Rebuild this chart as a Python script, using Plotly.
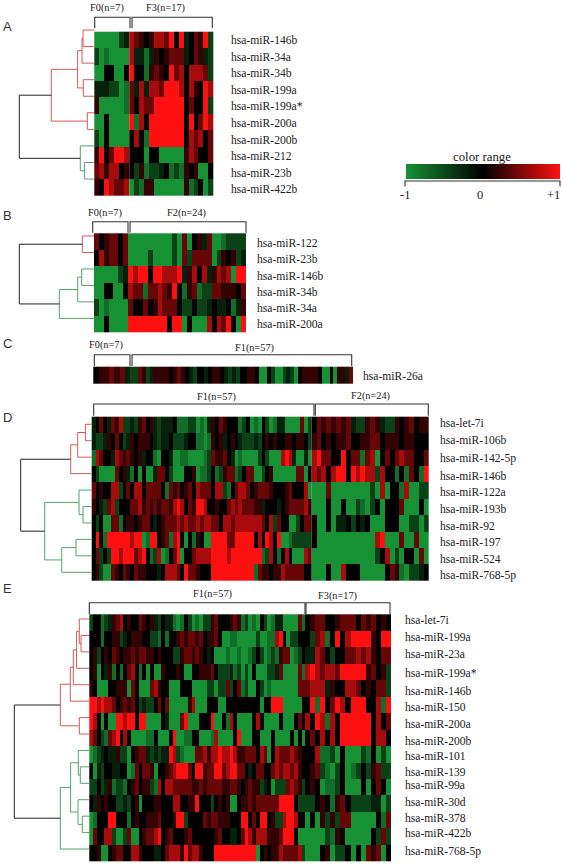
import plotly.graph_objects as go

# colour-level codes
LEVELS = {"G": -1.0, "g": -0.75, "e": -0.45, "d": -0.22, "k": 0.0,
          "r": 0.2, "m": 0.4, "R": 0.66, "X": 1.0}

A_GENES = ["hsa-miR-146b", "hsa-miR-34a", "hsa-miR-34b", "hsa-miR-199a", "hsa-miR-199a*",
           "hsa-miR-200a", "hsa-miR-200b", "hsa-miR-212", "hsa-miR-23b", "hsa-miR-422b"]
A_F0 = ["GGGGGed", "eGgGGGG", "GGkkGGk", "dddeeGg", "rGGGGGg",
        "GGkGGGG", "eGkGGGG", "rXkmXXR", "mRrRRkr", "rkXRmmR"]
A_F3 = ["RmrkrRRmXkXdkmrXe", "Rddgdrkrmmmdkmrde", "XkkgrmrkXmRkRRRme",
        "mdRdRRmXXXRkRrkXR", "mkRmmXXXXXXkmkkXe", "XgRkXXXXXXXkXkmXR",
        "kRkgXXXXXXXkRmRkm", "kkkGkkGGGGGrRmkkm", "kergeedkgegrkrGGk", "GegrrGGGGGGrgekGe"]

B_GENES = ["hsa-miR-122", "hsa-miR-23b", "hsa-miR-146b", "hsa-miR-34b", "hsa-miR-34a", "hsa-miR-200a"]
B_F0 = ["mkrmmkm", "kRrmmkm", "GGGGGed", "GGkkGGk", "eGgGGGG", "GGkGGGG"]
B_F2 = ["GGGGGGGGGeGmGkrdmGGgeeee", "GGGGeGGGGeGmemmmmGerkred", "XRXXkXXRRRXdrRkRdrRmRGXX",
        "RmmgmmRmrXkgrmgeemmrrrkm", "mkkmkrRmmmkeekeedkddkgdr", "XXXXXXXXkXXGkGGGRkRmXkGX"]

C_GENES = ["hsa-miR-26a"]
C_F0 = ["krrmrmd"]
C_F1 = ["eemredrrrr krmrkdekkd krrkdedekk rrkGGkeGGe deGkrrrrkG GkGrrdm"]

D_GENES = ["hsa-let-7i", "hsa-miR-106b", "hsa-miR-142-5p", "hsa-miR-146b", "hsa-miR-122a",
           "hsa-miR-193b", "hsa-miR-92", "hsa-miR-197", "hsa-miR-524", "hsa-miR-768-5p"]
D_F1 = [
    "dkmkdmrRee dermkrdedd dkgggeeGgG drkmrkkkge kGgGkeGgdd GGGGmGe",
    "deedrkmked rkrrrkdedd keeedkkggG grkrdkrkde eedekrkrkk rrkrrke",
    "gRmkkdRmrm rkrdkkgGkk dGGggGGGGg emrrmkdGgG GGGekeGGGR XRdGGdG",
    "keGGGGmkrd gkGkGGdmmk eGGGkkrGgg ekgermmgek mmGGekrGGG GGGmmGk",
    "mkrkkRRekm kRRkmmmmkg mrmkrmkRmm mkRRegkmRR mkrmmmrkkk rmkkkRG",
    "rkdemRekkk mmRrmrmrmm rRXRkmrXXR kkrkkmRmRm mmrrdkkkdk rmmmmRr",
    "kekGGmmgkr rkrmmkdkrm mmRmRmmRmR RmmkRRmRRR RRRRmkRemk kGGekmm",
    "kXkgXXXXXX RXXGgXXkrm gRXkGkgrkG GXXXXmmXXX XXkRkXRkXG Ggeeeee",
    "kmekeXXRXX XmRXkgeRGg kmXGkkmRRR RXXXXRXXXX XXXXgeRkgk RkGGGRm",
    "kreGGmrkmr kmrrkkkdkR RRmkXmmrkk kXXXXXXXXX XXgmrrkrrR mmmmmkk",
]
D_F2 = [
    "kmrmrmrmdeermrdeerkrmkrr", "rmkrkrrmkkrrmmkrrrkrrkkk", "RXmmkkXkmmgmRGkmkmRmmkkm",
    "RmRkRXXkXRXRReRkkgkgmkgX", "GGGmGGGGGGGGeGRGkkgRGGee", "GGGkGGkGGegGekGkkkmGGGkG",
    "kGGkGddkekdkGGGkkkGGeeGe", "kGGGGGGGGGGGGRXGGGmGGmGG", "GGGGGGGGGGGGGekRGeGkkGmG",
    "GGGkGGRkkkGGGGGkmrgGeedk",
]

E_GENES = ["hsa-let-7i", "hsa-miR-199a", "hsa-miR-23a", "hsa-miR-199a*", "hsa-miR-146b",
           "hsa-miR-150", "hsa-miR-200a", "hsa-miR-200b", "hsa-miR-101", "hsa-miR-139",
           "hsa-miR-99a", "hsa-miR-30d", "hsa-miR-378", "hsa-miR-422b", "hsa-miR-768-5p"]
E_F1 = [
    "ekkgedrmRk rkkmrkrdek ddgGgkeGgG eermkkkrmr geGgGkeGgd dGGGGmg",
    "kkkgkkrred krrrkkeegk gkkrmrmmrm krrmkGGggG GGGGeGGggR XkGeekk",
    "krekrkmrkr rmrmmrrkrk kkeermmrmr kdkGGGgGGg GGgekeGgeg rmmGgek",
    "krGkdrgkgk mRkgkGkGGr kkkrkGGkkr rrmkeeedge GeGkGGGeed mGGGGmg",
    "rkGGGkkrrr GmkGGGmRrk kGGGkkkGGG GeeGeemekm geGGkeGgGG GGGGGmm",
    "XXRXRRmkrm rmkedeekmk mGGGGGrRGG GkkkGGkkkk kkkkkGkkXX XGGGGGk",
    "XRkGkGGXXR XXkXXGGGGk dGGGmXGGGk kkXGGkgRkG GGGkRkGGGG kGGGkmk",
    "RmkegmRXkR kGGGGggkGG GkXGGggkkG GGgRGGGGkX GGGkkGGGkG GGGkGkG",
    "Ggedkddree Gkrmmdeded dXRegGGGmm RrRRXRRXRr rmmmkRmGkR mmmRmrk",
    "kGdekkddkk GgmkmmrGkk rmRXXXmkXX rmmXXmRXXm mkdkmmkkmR mRRmRrk",
    "eekedrgeeg krmkrregRk RRmmmmmrrm rmmmmrrmmr krmrredkGe eemRmre",
    "kdrkrkkeed ekrGkkkrrk kkRRkkrrXk kkekrkrGGk rrmrmmmmmm XXXXkee",
    "Ggkkk XXkkk gkrkkrrrmk kkrXXekkkk mrmmrrrkkk XXkmkXXkre eRXXRkk",
    "GmkkRReGGe mGGkrmmRXk rmkkkrmkkk kkkrmkkddk mXRrRRRrrr mXXXkGG",
    "kkrGGkrmmk kRRrkkkddk mRRRrXmRRr kkkXXXXXXX XXXXGkrkrr Rmmmm Re",
]
E_F3 = [
    "krmmkkrmmmkmrmkrk", "kemRgkXkRXXXXrkXX", "ddRmkekkmmRmRrkmm",
    "RXRmRRmXXXXXrmkre", "mRRRdrkkRRmkrkmme", "kXgXkmXRkXXXkkRgX", "RkXRgRkXXXXXXkRkm",
    "kmkRkRkXXXXXXkRRk", "kkRggeGkGGGegkGeG", "krmegGekGgekermee", "krkGggekGGGkGkmkG",
    "eekrkgrmkeeeeddGe", "GkGreremmGGGGGkgm", "GGGGegrkGGGGGkeme", "GGGkrGeekGkGmrmGk",
]

# dendrograms: (distance from the heat map, upper branch, lower branch); integers are leaf rows
A_TREE = (75, (43, (16.7, (12.3, (11.3, 0, 1), 2), (11, 3, 4)), (7, 5, 6)), (14, 7, (9.7, 8, 9)))
B_TREE = (74.7, (11.7, 0, 1), (34.7, (16.3, (12.3, 2, 3), 4), 5))
D_TREE = (71, (21, (14, (6.3, 0, 1), 2), 3), (47, (12.7, 4, (8.7, 5, 6)), (30, (15.7, 7, 8), 9)))
E_TREE = (75, (29, (19, (16, (12.7, (10, 0, (8.3, 1, 2)), 3), 4), 5), (10, 6, 7)),
          (29, (18.7, (11, 8, (9, 9, 10)), (11.3, 11, (7, 12, 13))), 14))

RED, GREEN = "#d4595b", "#55a26d"
SERIF = "Liberation Serif"
INK = "#222222"
COLORSCALE = [[0, "#169134"], [0.5, "#000000"], [1, "#ff1010"]]


def codes(row, n):
    s = row.replace(" ", "")
    return [LEVELS[c] for c in s[:n].ljust(n, "k")]


fig = go.Figure()
shapes = []
notes = []


def heat(rows, n, left, right, top, bottom):
    dx = (right - left) / n
    dy = (bottom - top) / len(rows)
    fig.add_trace(go.Heatmap(z=[codes(r, n) for r in rows], x0=left + dx / 2, dx=dx,
                             y0=top + dy / 2, dy=dy, zmin=-1, zmax=1, colorscale=COLORSCALE,
                             showscale=False, hoverinfo="skip"))


def labels(genes, x, ys, size=11.6):
    for g, y in zip(genes, ys):
        notes.append(dict(x=x, y=y, text=g, xanchor="left", font=dict(family=SERIF, size=size, color=INK)))


def bracket(x0, x1, top, bottom):
    shapes.append(dict(type="path", path=f"M{x0},{bottom}L{x0},{top}L{x1},{top}L{x1},{bottom}",
                       line=dict(color="#333333", width=1.1)))


def header(text, x, y):
    notes.append(dict(x=x, y=y, text=text, xanchor="center", font=dict(family=SERIF, size=10.3, color=INK)))


def letter(text, y):
    notes.append(dict(x=3, y=y, text=text, xanchor="left",
                      font=dict(family="Liberation Sans", size=13, color="#333333")))


def tree(node, edge, y0, step, color=None):
    """Draw a node and return its (x, y)."""
    if isinstance(node, int):
        return edge, y0 + node * step
    d, up, low = node
    x = edge - d
    top = color is None
    cu = color or RED
    cl = color or GREEN
    xu, yu = tree(up, edge, y0, step, cu)
    xl, yl = tree(low, edge, y0, step, cl)
    col = "#222222" if top else color
    fig.add_trace(go.Scatter(x=[xu, x, x, xl], y=[yu, yu, yl, yl], mode="lines",
                             line=dict(color=col, width=1), hoverinfo="skip", showlegend=False))
    return x, (yu + yl) / 2


# Panel A
heat(A_F0, 7, 94.3, 129.3, 31.7, 196)
heat(A_F3, 17, 129.3, 213.7, 31.7, 196)
tree(A_TREE, 94.3, 30, 16.56)
labels(A_GENES, 231, [40.7, 57, 73.7, 90, 106.7, 123, 140, 156.7, 173, 189])
header("F0(n=7)", 107, 7.5)
header("F3(n=17)", 165, 7.5)
bracket(94.7, 130, 17.3, 28.3)
bracket(132, 212.3, 17.3, 28.3)
letter("A", 26)

# Panel B
heat(B_F0, 7, 94, 128, 233.3, 332.3)
heat(B_F2, 24, 128, 245.7, 233.3, 332.3)
tree(B_TREE, 94, 236, 16.47)
labels(B_GENES, 256.7, [243, 259, 276, 292, 308, 324])
header("F0(n=7)", 104.5, 212.7)
header("F2(n=24)", 186, 212.7)
bracket(92.7, 128, 221.7, 232.7)
bracket(130, 246, 221.7, 232.7)
letter("B", 215)

# Panel C
heat(C_F0, 7, 93.3, 130, 366.7, 383.3)
heat(C_F1, 57, 130, 353.3, 366.7, 383.3)
labels(C_GENES, 363, [376])
header("F0(n=7)", 105.7, 345)
header("F1(n=57)", 254, 348)
bracket(94.3, 130, 354.7, 366)
bracket(132, 351.7, 354.7, 366)
letter("C", 343)

# Panel D
heat(D_F1, 57, 91.7, 311.7, 416.7, 580.7)
heat(D_F2, 24, 311.7, 428.3, 416.7, 580.7)
tree(D_TREE, 91.7, 424.3, 16.44)
labels(D_GENES, 440, [423, 440, 458, 476, 492, 509, 526, 542, 559, 575])
header("F1(n=57)", 216.7, 396.7)
header("F2(n=24)", 370.7, 395.7)
bracket(93.7, 314, 404, 415.7)
bracket(315.3, 428.3, 404, 415.7)
letter("D", 417)

# Panel E
heat(E_F1, 57, 89.3, 305, 614.3, 861)
heat(E_F3, 17, 305, 390.7, 614.3, 861)
tree(E_TREE, 89.3, 619, 16.43)
labels(E_GENES, 405, [620, 637, 654, 673, 691, 707, 724, 741, 756, 772, 785, 802, 818, 833, 851])
header("F1(n=57)", 212.3, 594)
header("F3(n=17)", 337.7, 595.7)
bracket(89.3, 305, 602.7, 614)
bracket(306, 390, 602.7, 614)
letter("E", 588)

# colour range legend, drawn by the library's own colour bar
fig.data[0].update(showscale=True, colorbar=dict(
    orientation="h", x=406 / 563, xanchor="left", y=1 - 179.3 / 864, yanchor="bottom",
    lenmode="pixels", len=154, thicknessmode="pixels", thickness=15, outlinewidth=0,
    xpad=0, ypad=0, showticklabels=False, ticks=""))
bracket(405, 560, 181, 186.5)
notes.append(dict(x=481.7, y=156.7, text="color range", xanchor="center", font=dict(family=SERIF, size=12.8, color=INK)))
for txt, x in (("-1", 405), ("0", 479.5), ("+1", 553)):
    notes.append(dict(x=x, y=195, text=txt, xanchor="center", font=dict(family=SERIF, size=12.5, color=INK)))

for n in notes:
    n.update(xref="x", yref="y", yanchor="middle", showarrow=False, borderpad=0, borderwidth=0)

fig.update_layout(
    width=563, height=864, margin=dict(l=0, r=0, t=0, b=0, autoexpand=False), autosize=False,
    paper_bgcolor="white", plot_bgcolor="white", showlegend=False,
    xaxis=dict(range=[0, 563], visible=False, fixedrange=True),
    yaxis=dict(range=[864, 0], visible=False, fixedrange=True),
    shapes=shapes, annotations=notes,
)
fig.write_html("out.html", config={"displayModeBar": False, "responsive": False},
               post_script="document.body.style.margin='0';document.body.style.overflow='hidden';")
